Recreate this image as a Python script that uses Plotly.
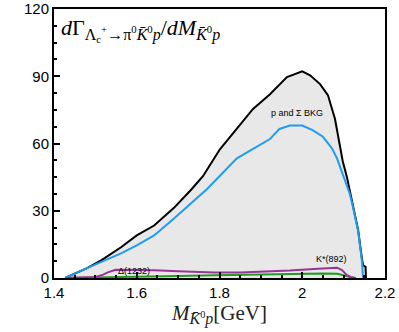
import plotly.graph_objects as go

# Total (black)
total_x = [1.427, 1.431, 1.48, 1.514, 1.562, 1.60, 1.642, 1.69, 1.733, 1.76, 1.801, 1.842, 1.881,
           1.922, 1.963, 2.00, 2.019, 2.043, 2.062, 2.079, 2.086, 2.098, 2.108, 2.115, 2.123,
           2.135, 2.144, 2.147, 2.153, 2.154]
total_y = [0, 0.4, 4.4, 7.9, 13.7, 19.0, 23.4, 31.3, 39.7, 45.4, 57.4, 66.6, 75.4,
           82.0, 89.6, 92.2, 90.4, 86.5, 81.6, 71.0, 64.0, 52.0, 45.0, 38.5, 32.0,
           21.5, 9.0, 5.7, 5.0, 0]

# p and Sigma background (blue)
bkg_x = [1.427, 1.431, 1.48, 1.514, 1.562, 1.60, 1.642, 1.69, 1.77, 1.842, 1.922, 1.945,
         1.97, 2.00, 2.025, 2.05, 2.072, 2.084, 2.096, 2.115, 2.123, 2.135, 2.144, 2.147]
bkg_y = [0, 0.4, 4.4, 7.0, 11.0, 14.6, 19.0, 26.5, 39.7, 53.4, 62.0, 66.5,
         68.0, 68.0, 66.0, 63.0, 57.8, 53.4, 47.6, 37.5, 31.3, 21.0, 8.0, 0]

# Delta(1232) + K*(892) (purple)
res_x = [1.428, 1.47, 1.50, 1.515, 1.53, 1.549, 1.60, 1.642, 1.70, 1.738, 1.787, 1.85, 1.908,
         1.97, 2.028, 2.06, 2.084, 2.096, 2.108, 2.12, 2.13]
res_y = [0, 0.3, 0.5, 1.2, 2.5, 3.7, 3.7, 3.5, 3.0, 2.6, 2.4, 2.5, 2.8,
         3.3, 4.0, 4.4, 4.6, 3.5, 1.3, 0.3, 0]

# green component
grn_x = [1.43, 1.50, 1.60, 1.70, 1.79, 1.90, 1.99, 2.05, 2.085, 2.10, 2.117, 2.125]
grn_y = [0, 0.3, 0.6, 0.9, 1.2, 1.6, 1.9, 2.0, 1.9, 1.3, 0.3, 0]

x_ticks = [1.4, 1.6, 1.8, 2.0, 2.2]
x_tick_labels = ["1.4", "1.6", "1.8", "2", "2.2"]
y_ticks = [0, 30, 60, 90, 120]

fig = go.Figure()
fig.add_trace(go.Scatter(x=total_x, y=total_y, mode="lines", fill="tozeroy",
                         fillcolor="#e8e8e8", line=dict(color="black", width=2)))
fig.add_trace(go.Scatter(x=bkg_x, y=bkg_y, mode="lines", line=dict(color="#1e9cf0", width=2)))
fig.add_trace(go.Scatter(x=grn_x, y=grn_y, mode="lines", line=dict(color="#229922", width=2)))
fig.add_trace(go.Scatter(x=res_x, y=res_y, mode="lines", line=dict(color="#993399", width=2)))

axis_common = dict(showgrid=False, zeroline=False, showline=True, linecolor="black", linewidth=2,
                   mirror=True, ticks="inside", ticklen=6, tickwidth=1.5, tickcolor="black",
                   ticklabeloverflow="allow",
                   tickfont=dict(family="Liberation Sans, Arial, sans-serif", size=15, color="black"))

big = "<span style='font-size:16px'>"
fig.update_xaxes(range=[1.4, 2.2], tickvals=x_ticks, ticktext=x_tick_labels,
                 minor=dict(dtick=0.05, ticks="inside", ticklen=3, tickcolor="black"),
                 title=dict(text="<i>M</i><sub>" + big + "<i>K̄</i></span><sup>0</sup>" + big + "<i>p</i></span></sub>[GeV]",
                            font=dict(family="Liberation Serif, serif", size=21, color="#222"),
                            standoff=2),
                 automargin=False,
                 **axis_common)
fig.update_yaxes(range=[0, 120], tickvals=y_ticks,
                 minor=dict(dtick=7.5, ticks="inside", ticklen=3, tickcolor="black"),
                 automargin=False,
                 **axis_common)

fig.add_annotation(xref="paper", yref="paper", x=0.015, y=0.985, xanchor="left", yanchor="top",
                   showarrow=False,
                   text=("<i>d</i>Γ<sub>" + big + "Λ</span><sub>c</sub><sup>+</sup>" + big + "→π</span><sup>0</sup>"
                         + big + "<i>K̄</i></span><sup>0</sup>" + big + "<i>p</i></span></sub>/<i>dM</i><sub>"
                         + big + "<i>K̄</i></span><sup>0</sup>" + big + "<i>p</i></span></sub>"),
                   font=dict(family="Liberation Serif, serif", size=22, color="black"))
fig.add_annotation(x=1.987, y=70.5, text="p and Σ BKG", showarrow=False, yanchor="bottom",
                   font=dict(family="Liberation Sans, Arial, sans-serif", size=9, color="black"))
fig.add_annotation(x=1.593, y=3.2, text="Δ(1232)", showarrow=False,
                   font=dict(family="Liberation Sans, Arial, sans-serif", size=9, color="black"))
fig.add_annotation(x=2.07, y=5.2, text="K*(892)", showarrow=False, yanchor="bottom",
                   font=dict(family="Liberation Sans, Arial, sans-serif", size=9, color="black"))

fig.update_layout(width=399, height=332, margin=dict(l=54, r=14, t=9, b=54),
                  paper_bgcolor="white", plot_bgcolor="white", showlegend=False)

fig.write_html("out.html", config={"displayModeBar": False},
               post_script="document.body.style.margin='0px';")
